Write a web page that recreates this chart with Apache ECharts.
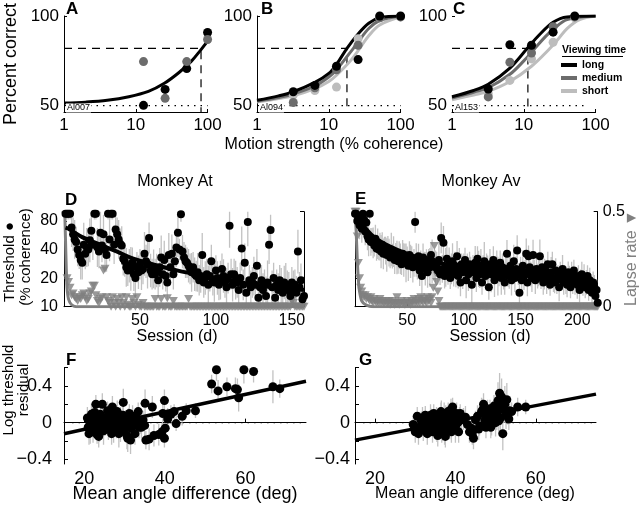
<!DOCTYPE html>
<html><head><meta charset="utf-8">
<script src="https://cdn.jsdelivr.net/npm/echarts@6/dist/echarts.min.js"></script>
<style>html,body{margin:0;padding:0;background:#fff}#c{width:640px;height:505px}</style>
</head><body><div id="c"></div><script>
// ---------- Panel A-C : psychometric data ----------
const cohA = [12.8, 25.6, 51.2, 99.9];
const pctA_long = [50.2, 59.1, 70.7, 90.8];
const pctA_medium = [74.6, 54.1, 74.6, 86.9];
const curveA_long = [[1,51.5],[2,52],[4,53],[8,55],[15,58],[25,62.5],[40,68.5],[60,75],[80,81],[100,86]];
const thrA = 81;

const cohB = [3.2, 6.4, 12.8, 25.6, 51.2, 99.9];
const pctB_long = [57.8, 61.3, 72, 75.7, 100, 100];
const pctB_medium = [51.8, 60, 70, 83.7, 99, 99.5];
const pctB_short = [56, 58.5, 60.4, 87.3, 99, 99.5];
const curveB_long = [[1,53],[2,55.5],[3.2,57.8],[6.4,63],[10,68],[12.8,73],[17.9,82],[25.6,90],[36,96],[51.2,99],[100,100]];
const curveB_medium = [[1,52.5],[2,54.5],[3.2,56.5],[6.4,61],[10,66],[12.8,70],[22,82],[25.6,85.5],[36,93],[51.2,97.5],[100,100]];
const curveB_short = [[1,52],[2,54],[3.2,55.5],[6.4,59.5],[10,63.5],[12.8,67],[20,75],[27,82],[36,89],[51.2,95],[100,99.5]];
const thrB = 17.9;

const cohC = [3.2, 6.4, 12.8, 25.6, 51.2];
const pctC_long = [59.3, 84, 83.7, 91, 100];
const pctC_medium = [54.9, 74.2, 79.4, 94, 99.5];
const pctC_short = [56.7, 64.1, 76.1, 85.4, 99];
const curveC_long = [[1,55],[2,58.5],[3.2,62],[6.4,71],[11.2,82],[16,89],[25.6,96.5],[40,99.5],[100,100]];
const curveC_medium = [[1,54.3],[2,57.5],[3.2,60],[6.4,67.5],[10,75],[14.3,82],[20,88.5],[25.6,92.5],[40,98],[100,100]];
const curveC_short = [[1,53.3],[2,56],[3.2,58],[6.4,63.5],[12.8,72],[23.2,82],[30,87],[40,93],[60,98],[100,99.8]];
const thrC = 11.4;
const criterion = 82;
const yTicksPct = [50, 100];
const xTicksCoh = [1, 10, 100];

// ---------- Panel D : Monkey At ----------
const firstSessionD = 1;
const thrD = [
95,95,95,95,68,58,51,48,40,35,
31,29,45,36,42,40,50,63,45,95,
95,42,38,60,44,58,40,35,95,51,
95,95,45,65,58,51,46,44,32,30,
26,24,27,25,29,22,20,26,23,28,
24,25,36,30,28,53,24,22,25,22,
24,19,26,33,22,31,21,18,35,26,
36,22,30,42,60,40,94,38,33,30,
29,27,25,23,26,22,21,23,19,21,
35,18,20,22,17,21,30,19,18,24,
20,17,19,25,21,18,16,20,71,22,
17,22,19,18,15,20,41,17,29,14,
78,19,16,18,21,17,27,12.4,16,19,
15,17,13,18,45,64,16,20,12.4,17,
15,19,16,14,18,17,15,16,13,18,
15,17,14,38,16,19,12,13];
const errD = [
1.15,1.15,1.15,1.15,1.6,1.5,1.6,1.45,1.5,1.4,
1.6,1.5,1.7,1.45,1.6,1.5,1.7,1.6,1.45,1.15,
1.15,1.6,1.5,1.7,1.5,1.6,1.45,1.5,1.15,1.7,
1.15,1.15,1.6,1.7,1.5,1.6,1.45,1.6,1.5,1.45,
1.6,1.45,1.5,1.7,1.45,1.5,1.6,1.45,1.5,1.45,
1.6,1.45,1.7,1.5,1.8,1.45,1.5,1.45,1.6,1.45,
1.5,1.45,1.6,1.7,1.45,1.6,1.45,1.5,1.7,1.45,
1.6,1.45,1.5,1.6,1.8,1.3,1.2,1.5,1.45,1.5,
1.45,1.5,1.45,1.6,1.45,1.5,1.45,1.6,1.45,1.5,
1.7,1.45,1.5,1.45,1.6,1.45,1.5,1.45,1.6,1.45,
1.5,1.45,1.6,1.45,1.5,1.45,1.6,1.45,1.7,1.45,
1.5,1.45,1.6,1.45,1.5,1.45,1.7,1.45,1.6,1.45,
1.8,1.45,1.5,1.45,1.6,1.45,1.5,1.45,1.6,1.45,
1.5,1.45,1.6,1.7,1.6,1.45,1.5,1.45,1.6,1.45,
1.5,1.45,1.6,1.45,1.5,1.7,1.6,1.45,1.5,1.45,
1.6,1.45,1.5,1.7,1.45,1.5,1.45,1.6];
const lapseD = [
0.48,0.15,0.13,0.1,0.06,0.07,0.05,0.04,0.03,0.05,
0.04,0.06,0.07,0.05,0.03,0.04,0.07,0.08,0.11,0.11,
0.06,0.03,0.02,0.04,0.05,0.19,0.2,0.05,0.03,0.02,
0,0.05,0.02,0,0.04,0.02,0,0.05,0.02,0,
0.05,0.01,0,0,0.04,0.02,0,0.05,0.01,0,
0,0.02,0,0,0,0,0,0,0,0.04,
0,0,0,0.04,0,0,0,0.045,0,0,
0,0.03,0,0,0,0,0,0,0,0,
0,0.04,0,0,0,0,0,0,0,0,
0,0,0,0,0,0,0,0,0,0,
0,0,0,0,0,0,0,0,0,0,
0,0,0,0,0,0,0,0,0,0,
0,0,0,0,0,0,0,0,0,0,
0,0,0,0,0,0,0,0,0,0,
0,0,0,0,0,0,0,0,0,0.03,
0.02,0,0,0,0,0,0,0];
const fitThrD = [[1,68],[3,66],[12,54],[23.7,45],[35,38],[45.6,32],[60,27.5],[75,24],[90,21.5],[111,18.5],[133,16.3],[158,15]];
const fitLapseD = [[0.5,0.5],[1,0.35],[1.5,0.2],[2,0.1],[3,0.04],[5,0.01],[8,0],[158,0]];

// ---------- Panel E : Monkey Av ----------
const firstSessionE = 4;
const thrE = [
95,95,80,90,72,77,66,95,83,62,
77,55,51,95,48,50,47,44,52,41,
46,40,43,38,45,36,42,39,35,41,
37,33,40,34,38,31,36,33,30,35,
32,28,36,31,34,29,33,27,35,30,
32,26,29,78,31,27,34,24,30,21,
33,28,25,31,23,29,26,35,30,27,
28,26,28,24,31,22,53,25,47,21,
26,32,23,28,20,25,30,22,27,24,
34,21,26,18,28,23,25,31,19,26,
22,28,24,17,27,23,29,20,32,25,
22,27,18,24,30,21,26,23,16,28,
22,25,31,19,24,27,21,23,29,20,
26,22,18,25,36,21,24,27,19,23,
30,20,25,39,22,14,24,19,27,21,
23,36,18,34,26,22,20,35,24,19,
25,21,23,34,20,26,18,22,24,19,
28,21,17,23,28,20,18,24,19,21,
16,22,20,25,18,21,19,17,23,20,
16,22,19,24,18,20,17,21,15,19,
22,17,20,16,18,21,15,19,17,14,
18,16,13,15,11];
const errE = [
1.15,1.15,1.4,1.3,1.4,1.35,1.4,1.15,1.3,1.4,
1.35,1.4,1.5,1.15,1.4,1.35,1.45,1.3,1.4,1.35,
1.45,1.3,1.4,1.5,1.35,1.45,1.3,1.4,1.5,1.35,
1.4,1.3,1.5,1.35,1.45,1.4,1.3,1.5,1.35,1.4,
1.45,1.3,1.4,1.5,1.35,1.6,1.3,1.45,1.4,1.5,
1.35,1.45,1.4,1.3,1.5,1.4,1.35,1.45,1.3,1.55,
1.4,1.35,1.5,1.3,1.45,1.4,1.6,1.35,1.7,1.4,
1.45,1.5,1.35,1.4,1.55,1.3,1.45,1.4,1.5,1.35,
1.6,1.4,1.35,1.5,1.3,1.45,1.55,1.35,1.4,1.5,
1.45,1.35,1.6,1.4,1.3,1.5,1.45,1.35,1.55,1.4,
1.5,1.35,1.4,1.6,1.3,1.45,1.5,1.4,1.35,1.55,
1.4,1.5,1.35,1.45,1.6,1.3,1.4,1.5,1.35,1.45,
1.55,1.35,1.4,1.5,1.3,1.45,1.6,1.4,1.35,1.5,
1.4,1.45,1.35,1.5,1.4,1.3,1.55,1.4,1.45,1.35,
1.5,1.4,1.35,1.45,1.3,1.5,1.4,1.35,1.45,1.4,
1.35,1.45,1.4,1.3,1.5,1.35,1.4,1.45,1.3,1.4,
1.45,1.35,1.4,1.5,1.3,1.4,1.35,1.45,1.3,1.4,
1.35,1.4,1.3,1.45,1.35,1.4,1.3,1.35,1.4,1.3,
1.4,1.35,1.3,1.4,1.35,1.3,1.4,1.35,1.3,1.35,
1.3,1.35,1.4,1.3,1.35,1.3,1.4,1.3,1.35,1.3,
1.35,1.3,1.4,1.3,1.35,1.3,1.3,1.35,1.3,1.3,
1.3,1.35,1.3,1.3,1.25];
const lapseE = [
0.5,0.5,0.37,0.23,0.15,0.1,0.08,0.06,0.05,0.06,
0.04,0.05,0.04,0.03,0.05,0.03,0.02,0.04,0.03,0.02,
0.03,0.02,0.04,0.02,0.03,0.02,0.02,0.03,0.02,0.02,
0.03,0.01,0.02,0.03,0.02,0.01,0.02,0.05,0.02,0.01,
0.02,0.03,0.02,0.02,0.01,0.02,0.03,0.02,0.02,0.01,
0.03,0.02,0.04,0.02,0.03,0.02,0.04,0.02,0.05,0.03,
0.02,0.04,0.03,0.02,0.05,0.03,0.04,0.02,0.05,0.1,
0.32,0.18,0.13,0.08,0.03,0,0,0,0,0,
0,0,0,0,0,0,0,0,0,0,
0,0,0,0,0,0,0,0,0,0,
0,0,0,0,0,0,0,0,0,0,
0,0,0,0,0,0,0,0,0,0,
0,0,0,0,0,0,0,0,0,0,
0,0,0,0,0,0,0,0,0,0,
0,0,0,0,0,0,0,0,0,0,
0,0,0,0,0,0,0,0,0,0,
0,0,0,0,0,0,0,0,0,0,
0,0,0,0,0,0,0,0,0,0,
0,0,0,0,0,0,0,0,0,0,
0,0,0,0,0,0,0,0,0,0,
0,0,0,0,0,0,0,0,0,0,
0,0,0,0,0];
const fitThrE = [[4,95],[6,90],[10,75],[20,55],[30,46],[45,38],[60,33],[90,27],[120,24],[150,21.5],[180,19.5],[218,17]];
const fitLapseE = [[4,0.5],[5,0.4],[6,0.25],[7,0.14],[8,0.08],[10,0.03],[14,0.008],[20,0],[218,0]];
const thrTicks = [10, 20, 40, 80];

// ---------- Panel F : residual vs angle (At) ----------
const angF = [52.8,51.6,53.2,55.4,57.5,59.6,62.0,58.3,58.0,66.8,68.5,47.6,45.3,44.3,42.8,41.5,42.3,40.7,39.9,36.9,
35.1,39.9,38.5,37.3,36.1,35.3,39.3,40.1,39.5,22.9,24.5,27.0,29.7,25.8,28.2,30.8,31.5,32.6,33.4,34.2,
20.8,21.0,21.3,21.5,21.8,22.0,22.2,22.5,22.8,23.0,23.2,23.5,23.8,24.0,24.2,24.5,24.8,25.0,25.3,25.6,
26.0,26.3,26.6,27.0,27.3,27.6,28.0,28.3,28.6,29.0,29.3,29.6,30.0,30.3,30.6,31.0,31.6,32.0,32.3,33.0,
33.6,34.0,34.6,35.0,21.2,22.6,23.6,26.8,29.0,31.2];
const resF = [0.575,0.42,0.345,0.39,0.37,0.575,0.556,0.27,0.36,0.39,0.37,0.13,0.13,0.07,-0.01,0.09,0.12,0.04,0.24,0.17,
0.21,-0.17,-0.13,-0.14,-0.18,-0.19,-0.1,-0.06,0.1,0.2,0.2,0.17,0.22,0.13,0.12,-0.17,-0.19,-0.12,0.12,-0.05,
0.05,-0.05,0.02,-0.08,0.09,0.0,-0.1,0.04,-0.03,0.07,-0.13,0.01,-0.06,0.09,-0.02,0.03,-0.09,0.05,-0.04,0.0,
-0.07,0.06,-0.02,0.03,-0.1,0.1,-0.05,0.02,-0.12,0.05,-0.03,0.08,-0.07,0.0,-0.14,0.04,-0.06,0.07,-0.02,0.05,
-0.05,0.0,0.03,-0.03,-0.12,0.11,-0.15,-0.12,-0.09,0.1];
const errF = [0.12,0.1,0.12,0.1,0.12,0.15,0.12,0.15,0.12,0.18,0.1,0.08,0.08,0.1,0.08,0.1,0.08,0.12,0.12,0.12,
0.15,0.1,0.12,0.12,0.12,0.1,0.1,0.1,0.12,0.1,0.12,0.12,0.15,0.1,0.12,0.15,0.15,0.12,0.1,0.12,
0.12,0.1,0.12,0.15,0.12,0.1,0.12,0.1,0.12,0.12,0.1,0.12,0.15,0.12,0.1,0.12,0.15,0.12,0.1,0.12,
0.12,0.1,0.12,0.15,0.12,0.1,0.12,0.12,0.15,0.12,0.1,0.12,0.12,0.1,0.15,0.12,0.1,0.12,0.12,0.1,
0.12,0.12,0.1,0.12,0.12,0.1,0.12,0.12,0.12,0.1];
const fitF = [[15,-0.12],[75,0.45]];

// ---------- Panel G : residual vs angle (Av) ----------
const angG = [29.5,30.0,30.5,31.0,31.5,32.0,32.5,33.0,33.3,33.6,34.0,34.3,34.6,35.0,35.3,35.6,36.0,36.2,36.5,36.8,
37.0,37.3,37.6,38.0,38.2,38.5,38.8,39.0,39.3,39.6,40.0,40.3,40.6,41.0,41.5,42.0,43.0,43.5,44.0,44.5,
45.0,45.5,46.0,46.5,47.0,47.3,47.6,48.0,48.3,48.6,49.0,49.3,49.6,50.0,50.3,50.6,51.0,51.2,51.5,51.8,
52.0,52.3,52.6,53.0,53.3,54.0,55.5,57.5,34.8,35.8,36.6,37.8,38.6,39.8,37.2,35.4,36.4,38.4,39.5,40.8,
41.2,33.8,32.8,31.8,30.8,37.5,36.9,38.9,40.2,42.5,46.8,48.8,49.8,51.4,52.8,50.8,47.8,45.8,44.2,53.5];
const resG = [-0.02,-0.1,0.07,-0.05,0.02,-0.08,0.08,-0.12,0.0,-0.04,0.05,-0.1,0.1,-0.06,0.02,-0.14,0.06,-0.03,0.09,-0.08,
0.01,-0.12,0.04,-0.05,0.12,-0.02,0.07,-0.1,0.17,0.03,-0.07,0.1,0.0,0.05,0.03,0.04,-0.02,-0.1,-0.06,-0.17,
0.03,0.07,-0.04,0.12,0.2,0.02,-0.05,0.1,0.05,0.15,-0.02,0.08,0.18,0.0,0.12,0.24,0.32,0.05,0.28,-0.12,
0.15,0.2,0.08,0.1,0.04,0.12,0.17,0.17,0.0,0.04,-0.1,0.07,-0.06,0.09,0.1,-0.09,0.12,0.02,-0.03,-0.1,
0.1,0.08,-0.03,0.05,-0.12,-0.15,0.05,0.14,-0.02,0.06,0.14,-0.05,0.1,0.18,0.25,0.02,0.07,-0.07,-0.12,0.13];
const errG = [0.1,0.12,0.1,0.12,0.1,0.12,0.1,0.12,0.1,0.12,0.1,0.12,0.1,0.12,0.15,0.12,0.1,0.12,0.15,0.12,
0.1,0.12,0.15,0.12,0.1,0.12,0.15,0.12,0.1,0.12,0.15,0.12,0.1,0.12,0.1,0.12,0.1,0.12,0.1,0.12,
0.1,0.12,0.1,0.15,0.12,0.1,0.12,0.15,0.12,0.1,0.12,0.15,0.12,0.15,0.2,0.2,0.22,0.15,0.2,0.18,
0.15,0.2,0.15,0.12,0.12,0.1,0.1,0.08,0.12,0.1,0.12,0.1,0.12,0.1,0.12,0.12,0.1,0.12,0.1,0.12,
0.1,0.12,0.1,0.12,0.12,0.12,0.1,0.12,0.1,0.12,0.12,0.12,0.15,0.2,0.18,0.15,0.12,0.12,0.12,0.12];
const fitG = [[15,-0.19],[75,0.31]];
const resTicks = [-0.4,-0.2,0,0.2,0.4,0.6];
const resLabels = [-0.4,0,0.4];

// ---------- styling ----------
const FF = 'Liberation Sans, Arial, Helvetica, sans-serif';
const BLACK = '#000', MED = '#6c6c6c', LIGHT = '#bdbdbd', TRI = '#808080', ERR = '#c2c2c2';

const zip = (xs, ys) => xs.map((x, i) => [x, ys[i]]);
const sessions = (first, n) => Array.from({length: n}, (_, i) => first + i);

function lineS(ax, data, color, width, name, extra) {
  return Object.assign({type:'line', name:name, xAxisIndex:ax[0], yAxisIndex:ax[1], data:data, showSymbol:false,
    smooth:0.35, lineStyle:{color:color, width:width}, itemStyle:{color:color}, silent:true, z:4}, extra || {});
}
function dotS(ax, data, color, size) {
  return {type:'scatter', xAxisIndex:ax[0], yAxisIndex:ax[1], data:data, symbolSize:size,
    itemStyle:{color:color, opacity:1}, silent:true, clip:false, z:5};
}
function refLine(ax, data, type) {
  return {type:'line', xAxisIndex:ax[0], yAxisIndex:ax[1], data:data, showSymbol:false, silent:true,
    lineStyle:{color:BLACK, width:1.2, type:type}, z:2};
}
function errRender(params, api) {
  const x = api.value(0);
  const p1 = api.coord([x, api.value(1)]);
  const p2 = api.coord([x, api.value(2)]);
  return {type:'line', shape:{x1:p1[0], y1:p1[1], x2:p2[0], y2:p2[1]}, style:{stroke:ERR, lineWidth:1.3}};
}
function errS(ax, data) {
  return {type:'custom', xAxisIndex:ax[0], yAxisIndex:ax[1], renderItem:errRender, data:data,
    encode:{x:0, y:[1,2]}, clip:true, silent:true, z:1};
}

const axLine = {lineStyle:{color:BLACK, width:1}};
const lbl = (size, extra) => Object.assign({color:BLACK, fontSize:size, fontFamily:FF}, extra || {});

function cohX(gi) {
  return {gridIndex:gi, type:'log', logBase:10, min:1, max:100, axisLine:axLine,
    axisTick:{inside:true, length:3, lineStyle:{color:BLACK}, customValues:xTicksCoh},
    axisLabel:lbl(17, {margin:5, customValues:xTicksCoh}), splitLine:{show:false}};
}
function pctY(gi, showLine) {
  return {gridIndex:gi, type:'value', min:46.5, max:100, axisLine:Object.assign({show:showLine}, axLine),
    axisTick:{show:true, inside:true, length:3, lineStyle:{color:BLACK}, customValues:yTicksPct},
    axisLabel:lbl(17, {margin:5, customValues:yTicksPct}), splitLine:{show:false}};
}
const negFmt = v => (v < 0 ? '\u2212' + Math.abs(v) : String(v));

const sD = sessions(firstSessionD, thrD.length);
const sE = sessions(firstSessionE, thrE.length);

const series = [
  // A
  refLine([0,0], [[1,50],[100,50]], [1.5,5]),
  refLine([0,0], [[1,criterion],[thrA,criterion],[thrA,46.5]], [8,6]),
  lineS([0,0], curveA_long, BLACK, 3, 'long'),
  dotS([0,0], zip(cohA, pctA_long), BLACK, 9),
  dotS([0,0], zip(cohA, pctA_medium), MED, 9),
  // B
  refLine([1,1], [[1,50],[100,50]], [1.5,5]),
  refLine([1,1], [[1,criterion],[thrB,criterion],[thrB,46.5]], [8,6]),
  lineS([1,1], curveB_short, LIGHT, 3, 'short'),
  lineS([1,1], curveB_medium, MED, 3, 'medium'),
  lineS([1,1], curveB_long, BLACK, 3, 'long'),
  dotS([1,1], zip(cohB, pctB_short), LIGHT, 9),
  dotS([1,1], zip(cohB, pctB_medium), MED, 9),
  dotS([1,1], zip(cohB, pctB_long), BLACK, 9),
  // C
  refLine([2,2], [[1,50],[70,50]], [1.5,5]),
  refLine([2,2], [[1,criterion],[thrC,criterion],[thrC,46.5]], [8,6]),
  lineS([2,2], curveC_short, LIGHT, 3, 'short'),
  lineS([2,2], curveC_medium, MED, 3, 'medium'),
  lineS([2,2], curveC_long, BLACK, 3, 'long'),
  dotS([2,2], zip(cohC, pctC_short), LIGHT, 9),
  dotS([2,2], zip(cohC, pctC_medium), MED, 9),
  dotS([2,2], zip(cohC, pctC_long), BLACK, 9),
  // D
  errS([3,3], sD.map((s, i) => [s, thrD[i] / errD[i], thrD[i] * errD[i]])),
  lineS([3,4], fitLapseD, TRI, 3, undefined, {smooth:0.2, z:3}),
  {type:'scatter', xAxisIndex:3, yAxisIndex:4, data:zip(sD, lapseD), symbol:'triangle', symbolRotate:180,
    symbolSize:[9,8], itemStyle:{color:TRI}, silent:true, clip:false, z:3},
  dotS([3,3], zip(sD, thrD), BLACK, 8),
  lineS([3,3], fitThrD, BLACK, 4),
  // E
  errS([4,5], sE.map((s, i) => [s, thrE[i] / errE[i], thrE[i] * errE[i]])),
  lineS([4,6], fitLapseE, TRI, 3, undefined, {smooth:0.2, z:3}),
  {type:'scatter', xAxisIndex:4, yAxisIndex:6, data:zip(sE, lapseE), symbol:'triangle', symbolRotate:180,
    symbolSize:[9,8], itemStyle:{color:TRI}, silent:true, clip:false, z:3},
  dotS([4,5], zip(sE, thrE), BLACK, 8),
  lineS([4,5], fitThrE, BLACK, 4),
  // F
  errS([5,7], angF.map((a, i) => [a, resF[i] - errF[i], resF[i] + errF[i]])),
  refLine([5,7], [[17,0],[74,0]], [1.5,5]),
  dotS([5,7], zip(angF, resF), BLACK, 9),
  lineS([5,7], fitF, BLACK, 3.5, undefined, {smooth:false}),
  // G
  errS([6,8], angG.map((a, i) => [a, resG[i] - errG[i], resG[i] + errG[i]])),
  refLine([6,8], [[17,0],[74,0]], [1.5,5]),
  dotS([6,8], zip(angG, resG), BLACK, 9),
  lineS([6,8], fitG, BLACK, 3.5, undefined, {smooth:false}),
];

function txt(x, y, text, size, opts) {
  opts = opts || {};
  const st = {text:text, fontSize:size, fontFamily:FF, fontWeight:opts.weight || 'normal', fill:opts.color || BLACK,
    align:opts.align || 'center', verticalAlign:opts.valign || 'middle',
    textAlign:opts.align || 'center', textVerticalAlign:opts.valign || 'middle'};
  if (opts.bg) { st.backgroundColor = opts.bg; st.padding = [0,1,0,1]; }
  return {type:'text', x:x, y:y, rotation:opts.rot || 0, style:st, silent:true, z:100};
}
const R = Math.PI / 2;

const option = {
  animation:false,
  backgroundColor:'#fff',
  textStyle:{fontFamily:FF},
  grid:[
    {left:64, top:16, width:143.6, height:96},
    {left:257, top:16, width:143.6, height:96},
    {left:452, top:16, width:143.6, height:96},
    {left:64, top:211.7, width:240, height:95},
    {left:355, top:211.7, width:242.7, height:95},
    {left:64, top:367.5, width:242, height:96.5},
    {left:355, top:367.5, width:241, height:96.5}
  ],
  xAxis:[
    cohX(0), cohX(1), cohX(2),
    {gridIndex:3, type:'value', min:0, max:158, axisLine:axLine,
      axisTick:{inside:true, length:3, customValues:[50,100,150]},
      axisLabel:lbl(16, {margin:6, customValues:[50,100,150]}), splitLine:{show:false}},
    {gridIndex:4, type:'value', min:4, max:218, axisLine:axLine,
      axisTick:{inside:true, length:3, customValues:[50,100,150,200]},
      axisLabel:lbl(16, {margin:6, customValues:[50,100,150,200]}), splitLine:{show:false}},
    {gridIndex:5, type:'value', min:15, max:75, axisLine:axLine,
      axisTick:{inside:true, length:4, customValues:[20,40,60]},
      axisLabel:lbl(18, {margin:6, customValues:[20,40,60]}), splitLine:{show:false}},
    {gridIndex:6, type:'value', min:15, max:75, axisLine:axLine,
      axisTick:{inside:true, length:4, customValues:[20,40,60]},
      axisLabel:lbl(18, {margin:6, customValues:[20,40,60]}), splitLine:{show:false}}
  ],
  yAxis:[
    pctY(0, true), pctY(1, true), pctY(2, false),
    {gridIndex:3, type:'log', logBase:10, min:10, max:100, axisLine:axLine,
      axisTick:{inside:true, length:3, customValues:thrTicks},
      axisLabel:lbl(16, {margin:6, customValues:thrTicks}), splitLine:{show:false}},
    {gridIndex:3, type:'value', position:'right', min:0, max:0.5, axisLine:Object.assign({show:true}, axLine),
      axisTick:{inside:true, length:4, customValues:[0,0.5]}, axisLabel:{show:false}, splitLine:{show:false}},
    {gridIndex:4, type:'log', logBase:10, min:10, max:100, axisLine:axLine,
      axisTick:{inside:true, length:3, customValues:thrTicks}, axisLabel:{show:false}, splitLine:{show:false}},
    {gridIndex:4, type:'value', position:'right', min:0, max:0.5, axisLine:Object.assign({show:true}, axLine),
      axisTick:{inside:true, length:4, customValues:[0,0.5]},
      axisLabel:lbl(16, {margin:5, customValues:[0,0.5]}), splitLine:{show:false}},
    {gridIndex:5, type:'value', min:-0.45, max:0.6, axisLine:axLine,
      axisTick:{inside:true, length:4, customValues:resTicks},
      axisLabel:lbl(18, {margin:12, customValues:resLabels, formatter:negFmt}), splitLine:{show:false}},
    {gridIndex:6, type:'value', min:-0.45, max:0.6, axisLine:axLine,
      axisTick:{inside:true, length:4, customValues:resTicks},
      axisLabel:lbl(18, {margin:5, customValues:resLabels, formatter:negFmt}), splitLine:{show:false}}
  ],
  legend:{data:['long','medium','short'], orient:'vertical', left:561, top:59, padding:0,
    itemWidth:16, itemHeight:4, itemGap:1, icon:'rect', selectedMode:false,
    textStyle:{fontSize:10.5, fontWeight:'bold', fontFamily:FF, color:BLACK, lineHeight:12}},
  series:series,
  graphic:[
    txt(66, 1, 'A', 17, {weight:'bold', align:'left', valign:'top'}),
    txt(261, 1, 'B', 17, {weight:'bold', align:'left', valign:'top'}),
    txt(453, 1, 'C', 17, {weight:'bold', align:'left', valign:'top'}),
    txt(65, 192, 'D', 17, {weight:'bold', align:'left', valign:'top'}),
    txt(355, 191, 'E', 17, {weight:'bold', align:'left', valign:'top'}),
    txt(66, 352, 'F', 17, {weight:'bold', align:'left', valign:'top'}),
    txt(359, 352, 'G', 17, {weight:'bold', align:'left', valign:'top'}),
    txt(11, 64, 'Percent correct', 18, {rot:R}),
    txt(334, 145, 'Motion strength (% coherence)', 16),
    txt(562, 50, 'Viewing time', 10.5, {weight:'bold', align:'left'}),
    {type:'line', shape:{x1:562, y1:56.5, x2:623, y2:56.5}, style:{stroke:BLACK, lineWidth:1}, silent:true, z:100},
    txt(66, 108, 'Al007', 9, {align:'left', bg:'#fff'}),
    txt(259, 108, 'Al094', 9, {align:'left', bg:'#fff'}),
    txt(454, 108, 'Al153', 9, {align:'left', bg:'#fff'}),
    txt(175, 182, 'Monkey At', 16),
    txt(481, 182, 'Monkey Av', 16),
    txt(10, 262, 'Threshold \u25CF', 15, {rot:R}),
    txt(26, 257, '(% coherence)', 15, {rot:R}),
    txt(177, 337, 'Session (d)', 16),
    txt(490, 337, 'Session (d)', 16),
    txt(632, 258, 'Lapse rate \u25BC', 16, {rot:R, color:TRI}),
    txt(9, 390, 'Log threshold', 15, {rot:R}),
    txt(24, 390, 'residual', 15, {rot:R}),
    txt(185, 494, 'Mean angle difference (deg)', 18),
    txt(475, 494, 'Mean angle difference (deg)', 16)
  ]
};
const chart = echarts.init(document.getElementById('c'), null, {renderer:'canvas'});
chart.setOption(option);
</script></body></html>
